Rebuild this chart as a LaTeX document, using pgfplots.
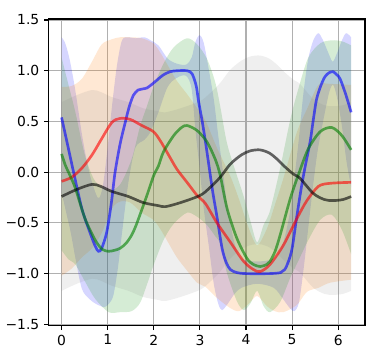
\documentclass[border=0pt]{standalone}
\usepackage{fontspec}
\setmainfont{DejaVu Sans}
\usepackage{pgfplots}
\pgfplotsset{compat=1.18}
\usepgfplotslibrary{fillbetween}
\definecolor{bandorange}{RGB}{255,127,14}
\definecolor{bandgreen}{RGB}{44,160,44}
\definecolor{mplgreen}{RGB}{0,128,0}
\definecolor{gridgray}{RGB}{176,176,176}

\begin{document}
\begin{tikzpicture}
\begin{axis}[
    set layers,
    width=237.2pt, height=229.7pt, scale only axis,
    xmin=-0.28, xmax=6.58, ymin=-1.51, ymax=1.51,
    xtick={0,...,6}, xticklabels={0,1,2,3,4,5,6},
    ytick={-1.5,-1,-0.5,0,0.5,1,1.5},
    yticklabels={−1.5,−1.0,−0.5,0.0,0.5,1.0,1.5},
    grid=major, grid style={gridgray, line width=0.8pt},
    axis line style={line width=0.8pt},
    tick align=outside, tick pos=left,
    major tick length=3.5pt,
    tick style={black, line width=0.8pt},
    tick label style={font=\fontsize{10.4}{12}\selectfont},
    no markers,
]
% bands
\addplot[name path=bu, draw=none, smooth] coordinates {(0,1.33)(0.08,1.27)(0.18,1.1)(0.3,0.8)(0.45,0.35)(0.6,0.0)(0.75,-0.22)(0.82,-0.25)(0.9,-0.12)(1.0,0.25)(1.1,0.68)(1.2,1.05)(1.31,1.3)(1.45,1.33)(1.6,1.32)(1.8,1.33)(1.93,1.3)(2.1,1.25)(2.3,1.12)(2.5,1.07)(2.7,1.06)(2.82,1.13)(2.9,1.28)(2.99,1.35)(3.08,1.28)(3.19,1.02)(3.3,0.72)(3.4,0.35)(3.51,-0.03)(3.6,-0.35)(3.75,-0.7)(3.9,-0.85)(4.24,-0.88)(4.6,-0.85)(4.8,-0.7)(4.95,-0.4)(5.05,-0.05)(5.15,0.35)(5.25,0.8)(5.35,1.12)(5.46,1.3)(5.57,1.37)(5.67,1.3)(5.8,1.16)(5.88,1.09)(5.97,1.17)(6.08,1.3)(6.17,1.37)(6.28,1.33)};
\addplot[name path=bl, draw=none, smooth] coordinates {(0,-0.2)(0.1,-0.4)(0.2,-0.6)(0.3,-0.85)(0.44,-1.15)(0.6,-1.25)(0.75,-1.3)(0.85,-1.32)(0.93,-1.33)(1.02,-1.3)(1.12,-1.22)(1.22,-0.95)(1.31,-0.6)(1.45,-0.1)(1.6,0.24)(1.8,0.32)(1.93,0.4)(2.1,0.59)(2.3,0.84)(2.5,0.93)(2.7,0.95)(2.82,0.82)(2.9,0.42)(2.99,0.05)(3.08,-0.35)(3.19,-0.72)(3.3,-1.1)(3.4,-1.3)(3.48,-1.36)(3.6,-1.3)(3.75,-1.2)(3.9,-1.14)(4.24,-1.1)(4.6,-1.14)(4.8,-1.25)(4.95,-1.34)(5.05,-1.37)(5.15,-1.28)(5.25,-0.95)(5.35,-0.55)(5.45,-0.15)(5.55,0.2)(5.65,0.45)(5.8,0.78)(5.89,0.86)(5.98,0.72)(6.08,0.45)(6.18,0.1)(6.28,-0.15)};
\addplot[blue, fill opacity=0.16, draw=none] fill between[of=bu and bl];

\addplot[name path=ou, draw=none, smooth] coordinates {(0,0.84)(0.22,0.85)(0.44,0.92)(0.66,1.09)(0.87,1.26)(1.09,1.31)(1.27,1.33)(1.49,1.33)(1.74,1.32)(1.99,1.27)(2.14,1.18)(2.32,1.04)(2.5,0.90)(2.72,0.77)(2.94,0.63)(3.12,0.51)(3.37,0.24)(3.66,-0.04)(3.85,-0.27)(4.05,-0.54)(4.24,-0.72)(4.45,-0.56)(4.62,-0.33)(4.81,-0.06)(5.1,0.39)(5.32,0.62)(5.57,0.86)(5.82,0.87)(6.28,0.86)};
\addplot[name path=ol, draw=none, smooth] coordinates {(0,-1.02)(0.22,-0.95)(0.44,-0.84)(0.66,-0.75)(0.87,-0.60)(1.09,-0.36)(1.27,-0.29)(1.49,-0.30)(1.74,-0.40)(1.99,-0.47)(2.14,-0.56)(2.32,-0.70)(2.5,-0.84)(2.72,-0.97)(2.94,-1.09)(3.12,-1.13)(3.37,-1.24)(3.66,-1.34)(3.85,-1.37)(4.05,-1.30)(4.24,-1.22)(4.45,-1.32)(4.62,-1.37)(4.81,-1.38)(5.1,-1.31)(5.32,-1.18)(5.57,-1.14)(5.82,-1.09)(6.28,-1.06)};
\addplot[bandorange, fill opacity=0.18, draw=none] fill between[of=ou and ol];

\addplot[name path=gu, draw=none, smooth] coordinates {(0,1.13)(0.15,0.86)(0.3,0.59)(0.51,0.16)(0.73,-0.09)(1.02,-0.18)(1.27,-0.12)(1.52,0.13)(1.7,0.45)(1.85,0.65)(2.0,0.85)(2.21,1.07)(2.43,1.23)(2.72,1.32)(2.94,1.26)(3.15,1.12)(3.33,0.89)(3.44,0.65)(3.59,0.28)(3.8,-0.03)(3.95,-0.24)(4.1,-0.49)(4.24,-0.69)(4.38,-0.52)(4.52,-0.38)(4.74,0.04)(4.96,0.52)(5.14,0.83)(5.35,1.13)(5.61,1.27)(5.86,1.30)(6.08,1.29)(6.28,1.25)};
\addplot[name path=gl, draw=none, smooth] coordinates {(0,-0.77)(0.15,-0.86)(0.3,-0.91)(0.51,-1.08)(0.73,-1.25)(1.02,-1.38)(1.27,-1.38)(1.52,-1.37)(1.7,-1.29)(1.85,-1.11)(2.0,-0.91)(2.21,-0.67)(2.43,-0.51)(2.72,-0.40)(2.94,-0.44)(3.15,-0.52)(3.33,-0.63)(3.44,-0.71)(3.59,-1.00)(3.8,-1.27)(3.95,-1.36)(4.1,-1.29)(4.24,-1.17)(4.38,-1.32)(4.52,-1.38)(4.74,-1.28)(4.96,-1.04)(5.14,-0.87)(5.35,-0.67)(5.61,-0.47)(5.86,-0.42)(6.08,-0.57)(6.28,-0.81)};
\addplot[bandgreen, fill opacity=0.2, draw=none] fill between[of=gu and gl];

\addplot[name path=ku, draw=none, smooth] coordinates {(0,0.69)(0.33,0.76)(0.66,0.81)(0.85,0.79)(1.09,0.74)(1.45,0.69)(1.77,0.63)(2.1,0.60)(2.25,0.59)(2.58,0.63)(3.0,0.70)(3.2,0.77)(3.44,0.88)(3.66,1.01)(3.9,1.10)(4.09,1.14)(4.3,1.15)(4.5,1.12)(4.67,1.06)(4.85,0.98)(5.03,0.91)(5.17,0.87)(5.46,0.72)(5.7,0.66)(5.89,0.65)(6.1,0.66)(6.28,0.69)};
\addplot[name path=kl, draw=none, smooth] coordinates {(0,-1.17)(0.33,-1.10)(0.66,-1.05)(0.85,-1.07)(1.09,-1.12)(1.45,-1.17)(1.77,-1.23)(2.1,-1.26)(2.25,-1.27)(2.58,-1.23)(3.0,-1.16)(3.2,-1.09)(3.44,-0.98)(3.66,-0.85)(3.9,-0.76)(4.09,-0.72)(4.3,-0.71)(4.5,-0.74)(4.67,-0.80)(4.85,-0.88)(5.03,-0.95)(5.17,-0.99)(5.46,-1.14)(5.7,-1.20)(5.89,-1.21)(6.1,-1.20)(6.28,-1.17)};
\addplot[gray, fill opacity=0.13, draw=none] fill between[of=ku and kl];

% means
\addplot[blue, draw opacity=0.6, line width=2pt, smooth] coordinates {(0,0.54)(0.13,0.27)(0.26,0.0)(0.44,-0.36)(0.62,-0.6)(0.73,-0.73)(0.8,-0.78)(0.87,-0.75)(0.98,-0.59)(1.08,-0.3)(1.16,0.0)(1.27,0.28)(1.38,0.49)(1.47,0.65)(1.56,0.76)(1.66,0.81)(1.75,0.82)(1.85,0.83)(1.97,0.87)(2.1,0.92)(2.21,0.96)(2.35,0.99)(2.5,1.0)(2.72,1.0)(2.83,0.97)(2.92,0.85)(2.97,0.7)(3.05,0.5)(3.12,0.3)(3.2,0.05)(3.28,-0.2)(3.37,-0.44)(3.48,-0.75)(3.57,-0.89)(3.66,-0.96)(3.8,-0.99)(4.0,-1.0)(4.5,-1.0)(4.75,-0.99)(4.84,-0.96)(4.92,-0.88)(5.0,-0.75)(5.1,-0.44)(5.2,-0.15)(5.28,0.05)(5.39,0.3)(5.46,0.52)(5.53,0.72)(5.62,0.85)(5.71,0.94)(5.8,0.98)(5.89,0.99)(5.97,0.96)(6.04,0.92)(6.16,0.77)(6.28,0.59)};
\addplot[red, draw opacity=0.6, line width=2pt, smooth] coordinates {(0,-0.09)(0.22,-0.05)(0.44,0.04)(0.66,0.17)(0.87,0.33)(1.09,0.49)(1.27,0.53)(1.49,0.52)(1.74,0.46)(1.99,0.40)(2.14,0.31)(2.32,0.17)(2.5,0.03)(2.72,-0.1)(2.94,-0.23)(3.12,-0.31)(3.37,-0.5)(3.66,-0.69)(3.95,-0.88)(4.16,-0.96)(4.31,-0.98)(4.52,-0.91)(4.81,-0.72)(5.1,-0.46)(5.32,-0.28)(5.57,-0.14)(5.82,-0.11)(6.28,-0.10)};
\addplot[mplgreen, draw opacity=0.6, line width=2pt, smooth] coordinates {(0,0.18)(0.08,0.07)(0.19,-0.04)(0.3,-0.16)(0.51,-0.46)(0.73,-0.67)(0.88,-0.76)(1.02,-0.78)(1.15,-0.77)(1.27,-0.75)(1.4,-0.7)(1.52,-0.62)(1.61,-0.53)(1.7,-0.42)(1.85,-0.23)(2.0,-0.03)(2.1,0.06)(2.21,0.2)(2.43,0.36)(2.6,0.44)(2.72,0.46)(2.94,0.41)(3.15,0.3)(3.33,0.13)(3.44,-0.03)(3.59,-0.36)(3.8,-0.65)(4.02,-0.85)(4.16,-0.91)(4.31,-0.93)(4.45,-0.91)(4.52,-0.88)(4.63,-0.78)(4.74,-0.62)(4.96,-0.26)(5.14,-0.02)(5.35,0.23)(5.61,0.40)(5.86,0.44)(6.08,0.36)(6.28,0.22)};
\addplot[black, draw opacity=0.6, line width=2pt, smooth] coordinates {(0,-0.24)(0.33,-0.17)(0.66,-0.12)(0.85,-0.14)(1.09,-0.19)(1.45,-0.24)(1.77,-0.30)(2.1,-0.33)(2.25,-0.34)(2.58,-0.30)(3.0,-0.23)(3.2,-0.16)(3.44,-0.05)(3.66,0.08)(3.9,0.17)(4.09,0.21)(4.3,0.22)(4.5,0.19)(4.67,0.13)(4.85,0.05)(5.03,-0.02)(5.17,-0.06)(5.46,-0.21)(5.7,-0.27)(5.89,-0.28)(6.1,-0.27)(6.28,-0.24)};
\end{axis}
\pgfresetboundingbox
\path[use as bounding box] (-36.5pt,-27.5pt) rectangle (251.45pt,243.95pt);
\end{tikzpicture}
\end{document}
